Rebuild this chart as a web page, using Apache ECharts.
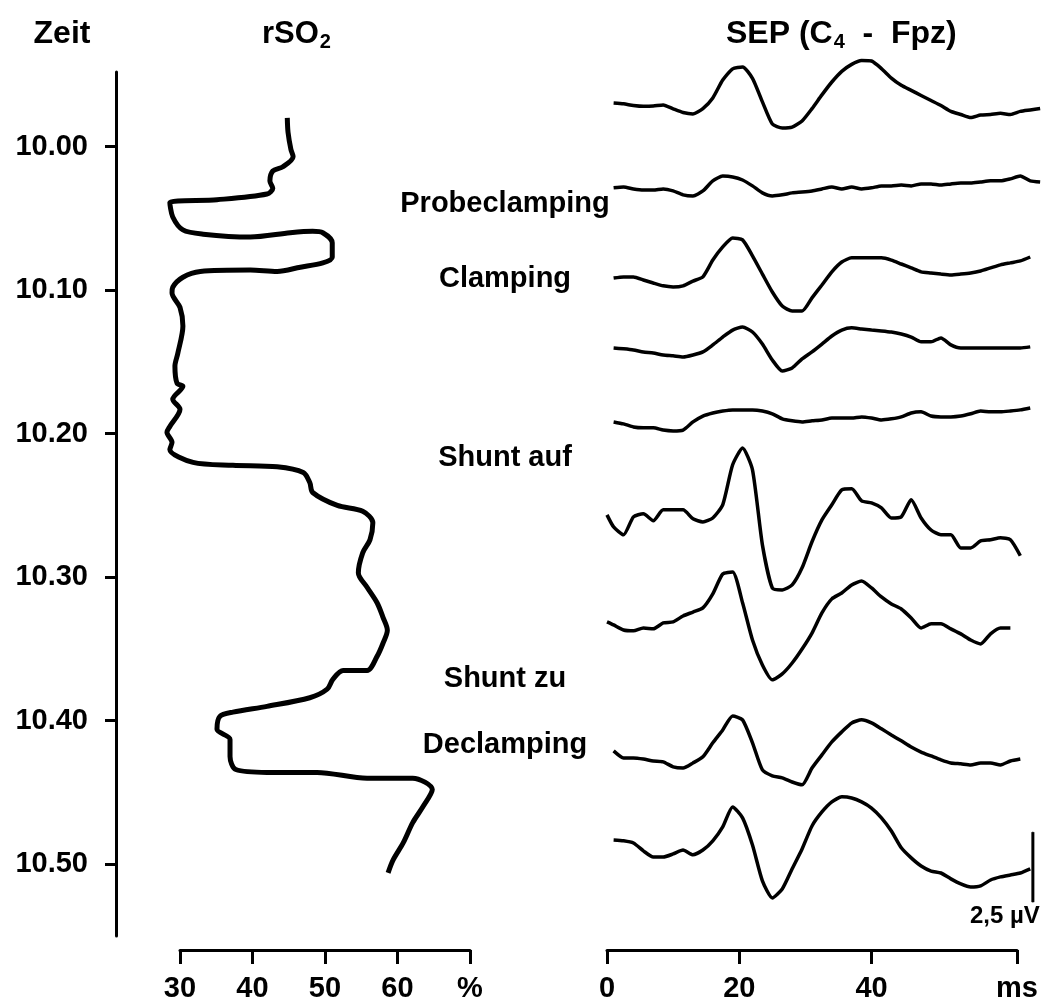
<!DOCTYPE html>
<html><head><meta charset="utf-8">
<script src="https://cdn.jsdelivr.net/npm/echarts@6/dist/echarts.min.js"></script>
<style>html,body{margin:0;padding:0;background:#fff}#c{width:1051px;height:1004px}</style>
</head><body><div id="c"></div>
<script>
// ---------- data ----------
const timeTicks = [0, 10, 20, 30, 40, 50];               // minutes after 10.00
const timeLabels = ['10.00', '10.10', '10.20', '10.30', '10.40', '10.50'];
const rso2Ticks = [30, 40, 50, 60, 70];
const rso2TickLabels = ['30', '40', '50', '60', '%'];
const sepTicks = [0, 20, 40, 62];
const sepTickLabels = ['0', '20', '40', 'ms'];

// rSO2 trend (value in %, time in minutes after 10.00)
const rso2Time = [-2.0, -1.0, 0.2, 0.7, 1.4, 1.7, 2.4, 2.9, 3.3, 3.7,
  3.9, 4.9, 5.8, 6.1, 6.3, 6.0, 5.9, 6.0, 6.7, 7.7,
  8.1, 8.4, 8.7, 8.6, 8.7, 9.1, 9.8, 10.2, 11.2, 12.5,
  14.4, 15.3, 16.5, 16.7, 17.6, 18.3, 19.5, 19.9, 20.6, 21.1,
  22.0, 22.2, 22.3, 22.7, 23.4, 24.1, 25.0, 25.4, 26.2, 27.4,
  28.3, 29.7, 30.7, 31.8, 32.8, 33.7, 34.6, 35.5, 36.5, 36.5,
  37.1, 37.8, 38.4, 39.0, 39.4, 39.7, 40.6, 41.3, 42.5, 43.4,
  43.6, 43.6, 44.0, 44.0, 44.8, 46.0, 47.1, 48.5, 49.7, 50.6];
const rso2Value = [44.8, 44.9, 45.3, 45.6, 44.2, 42.8, 42.4, 42.8, 42.0, 35.1,
  28.6, 29.0, 30.4, 33.2, 39.7, 45.2, 48.3, 49.7, 51.0, 51.0,
  49.7, 46.6, 43.4, 39.7, 32.8, 30.4, 29.0, 28.9, 30.0, 30.4,
  29.7, 29.3, 29.6, 30.4, 29.0, 30.0, 28.6, 28.2, 28.9, 28.6,
  31.8, 37.3, 43.4, 47.0, 47.9, 48.3, 51.7, 55.2, 56.6, 56.2,
  55.2, 54.6, 55.8, 57.2, 58.0, 58.6, 58.0, 57.2, 55.8, 52.5,
  51.1, 50.3, 47.9, 42.0, 37.3, 35.5, 35.1, 36.9, 36.9, 37.7,
  42.0, 48.9, 55.8, 62.1, 64.8, 63.5, 62.1, 60.8, 59.4, 58.7];

// events (minutes after 10.00)
const eventNames = ['Probeclamping', 'Clamping', 'Shunt auf', 'Shunt zu', 'Declamping'];
const eventTimes = [4.0, 9.2, 21.7, 37.1, 41.7];

// SEP traces: latency in ms, amplitude in µV (relative to own baseline)
const sepMs = [0, 1, 2.5, 4, 5.5, 7, 8.5, 10, 11.5, 13, 14.5, 16, 17.5, 19, 20.5, 22, 23.5, 25, 26.5, 28,
  29.5, 31, 32.5, 34, 35.5, 37, 38.5, 40, 41.5, 43, 44.5, 46, 47.5, 49, 50.5, 52, 53.5, 55, 56.5, 58,
  59.5, 61, 62.5, 64, 65.5];
const sep1 = [null, 0.07, 0.04, -0.02, -0.05, -0.04, 0, -0.14, -0.27, -0.32, -0.13, 0.25, 0.89, 1.29, 1.36, 0.95, 0.11, -0.68, -0.82, -0.79,
  -0.57, -0.13, 0.36, 0.82, 1.2, 1.45, 1.59, 1.57, 1.3, 0.96, 0.7, 0.52, 0.34, 0.16, -0.02, -0.23, -0.34, -0.45, -0.36, -0.34,
  -0.3, -0.34, -0.23, -0.18, -0.13];
const sep2 = [null, 0.04, 0.07, 0, -0.04, -0.04, 0, -0.07, -0.21, -0.25, -0.07, 0.29, 0.46, 0.43, 0.32, 0.11, -0.14, -0.25, -0.21, -0.14,
  -0.11, -0.07, 0, 0.07, 0, 0.07, 0, 0.04, 0.11, 0.11, 0.14, 0.11, 0.18, 0.18, 0.14, 0.18, 0.21, 0.21, 0.25, 0.29,
  0.29, 0.36, 0.46, 0.29, 0.25];
const sep3 = [null, 0.07, 0.11, 0.11, 0, -0.11, -0.21, -0.25, -0.21, -0.04, 0.11, 0.71, 1.18, 1.5, 1.43, 0.86, 0.21, -0.43, -0.93, -1.11,
  -1.11, -0.64, -0.18, 0.29, 0.64, 0.79, 0.79, 0.79, 0.79, 0.71, 0.57, 0.43, 0.29, 0.25, 0.21, 0.18, 0.21, 0.25, 0.32, 0.43,
  0.54, 0.61, 0.68, 0.82, null];
const sep4 = [null, 0.07, 0.04, 0, -0.07, -0.11, -0.18, -0.21, -0.25, -0.18, -0.07, 0.18, 0.46, 0.71, 0.82, 0.64, 0.21, -0.36, -0.75, -0.64,
  -0.32, -0.07, 0.21, 0.5, 0.71, 0.79, 0.75, 0.71, 0.68, 0.64, 0.57, 0.46, 0.29, 0.29, 0.43, 0.18, 0.07, 0.07, 0.07, 0.07,
  0.07, 0.07, 0.07, 0.11, null];
const sep5 = [null, 0, -0.07, -0.18, -0.21, -0.21, -0.29, -0.32, -0.29, 0, 0.21, 0.32, 0.39, 0.43, 0.43, 0.43, 0.39, 0.29, 0.11, 0.04,
  0, 0.04, 0.07, 0.14, 0.14, 0.14, 0.18, 0.14, 0.07, 0.11, 0.18, 0.32, 0.36, 0.21, 0.18, 0.18, 0.21, 0.29, 0.39, 0.36,
  0.36, 0.39, 0.43, 0.5, null];
const sep6 = [0, -0.43, -0.71, -0.07, 0.04, -0.21, 0.18, 0.18, 0.18, -0.14, -0.25, -0.11, 0.36, 1.79, 2.39, 1.61, -1.07, -2.61, -2.68, -2.5,
  -1.89, -0.96, -0.18, 0.36, 0.89, 0.93, 0.5, 0.43, 0.25, -0.11, -0.07, 0.54, -0.11, -0.54, -0.71, -0.71, -1.18, -1.18, -0.93, -0.89,
  -0.82, -0.89, -1.46, null, null];
const sep7 = [0.11, 0, -0.18, -0.21, -0.11, -0.14, 0.07, 0.11, 0.32, 0.46, 0.61, 1.11, 1.82, 1.89, 0.79, -0.54, -1.43, -1.96, -1.75, -1.36,
  -0.86, -0.29, 0.43, 0.93, 1.14, 1.43, 1.57, 1.32, 1, 0.75, 0.57, 0.25, -0.11, 0.04, 0.04, -0.14, -0.32, -0.54, -0.68, -0.32,
  -0.11, -0.11, null, null, null];
const sep8 = [null, 0.25, 0, 0, -0.04, -0.11, -0.14, -0.32, -0.36, -0.18, 0.04, 0.54, 1, 1.5, 1.36, 0.54, -0.43, -0.64, -0.71, -0.86,
  -0.96, -0.36, 0.11, 0.57, 0.93, 1.25, 1.36, 1.25, 1.04, 0.82, 0.61, 0.39, 0.21, 0.07, -0.07, -0.18, -0.21, -0.25, -0.18, -0.18,
  -0.25, -0.11, -0.04, null, null];
const sep9 = [null, 0.07, 0.04, -0.04, -0.32, -0.54, -0.54, -0.43, -0.29, -0.46, -0.29, 0.04, 0.54, 1.25, 0.86, -0.11, -1.39, -2, -1.68, -0.96,
  -0.25, 0.57, 1.07, 1.43, 1.61, 1.57, 1.43, 1.21, 0.86, 0.39, -0.21, -0.57, -0.86, -1.04, -1.11, -1.32, -1.5, -1.61, -1.57, -1.36,
  -1.25, -1.18, -1.11, -0.96, null];
const scaleBarValue = 2.5; // µV

// ---------- layout ----------
const GRID_TOP = 72, GRID_H = 864;
const T_MIN = -5.2, T_MAX = 55;
const PX_PER_UV = 28;
const PX_PER_PCT = 7.25;
const PX_PER_MS = 410 / 62;
const traceOffsets = [29.68, 26.68, 23.43, 20.93, 18.36, 15.04, 11.11, 6.36, 3.36]; // µV above axis-grid bottom
const scaleBarPos = { ms: 64.4, base: 1.21 };
const FONT = '"Liberation Sans", Arial, Helvetica, sans-serif';

const chart = echarts.init(document.getElementById('c'), null, { renderer: 'canvas' });

// SEP data grid spans the whole canvas height so nothing gets clipped
const SEP_Y_MIN = -(1004 - (GRID_TOP + GRID_H)) / PX_PER_UV;
const SEP_Y_MAX = (GRID_TOP + GRID_H) / PX_PER_UV;

const sepTraces = [sep1, sep2, sep3, sep4, sep5, sep6, sep7, sep8, sep9];
const sepSeries = sepTraces.map((tr, k) => ({
  type: 'line', name: 'SEP ' + (k + 1), xAxisIndex: 3, yAxisIndex: 3,
  symbol: 'none', clip: false, silent: true, smooth: 0.2,
  lineStyle: { color: '#000', width: 3.5 },
  data: sepMs.map((ms, i) => tr[i] == null ? null : [ms, traceOffsets[k] + tr[i]]).filter(d => d)
}));

const axisText = { color: '#000', fontFamily: FONT, fontWeight: 'bold', fontSize: 29 };
const blackLine = { color: '#000', width: 3 };
const RSO2_DATA_MIN = 28;

chart.setOption({
  animation: false,
  backgroundColor: '#fff',
  grid: [
    // 0: rSO2 visible axes
    { left: 180, top: GRID_TOP, width: 290, height: GRID_H },
    // 1: event labels
    { left: 430, top: GRID_TOP, width: 150, height: GRID_H },
    // 2: SEP visible axis
    { left: 607, top: GRID_TOP, width: 410, height: GRID_H },
    // 3: SEP data
    { left: 607, top: 0, width: 66 * PX_PER_MS, height: 1004 },
    // 4: rSO2 data
    { left: 180 - (30 - RSO2_DATA_MIN) * PX_PER_PCT, top: GRID_TOP, width: (70 - RSO2_DATA_MIN) * PX_PER_PCT, height: GRID_H }
  ],
  xAxis: [
    { gridIndex: 0, type: 'value', min: 30, max: 70, position: 'bottom', offset: 14,
      splitLine: { show: false },
      axisLine: { show: true, onZero: false, lineStyle: blackLine },
      axisTick: { show: true, customValues: rso2Ticks, length: 14, lineStyle: blackLine },
      axisLabel: { customValues: rso2Ticks, margin: 24, ...axisText,
        formatter: v => rso2TickLabels[rso2Ticks.indexOf(v)] } },
    { gridIndex: 1, type: 'value', min: 0, max: 1, show: false },
    { gridIndex: 2, type: 'value', min: 0, max: 62, position: 'bottom', offset: 14,
      splitLine: { show: false },
      axisLine: { show: true, onZero: false, lineStyle: blackLine },
      axisTick: { show: true, customValues: sepTicks, length: 14, lineStyle: blackLine },
      axisLabel: { customValues: sepTicks, margin: 24, ...axisText,
        formatter: v => sepTickLabels[sepTicks.indexOf(v)] } },
    { gridIndex: 3, type: 'value', min: 0, max: 66, show: false },
    { gridIndex: 4, type: 'value', min: RSO2_DATA_MIN, max: 70, show: false }
  ],
  yAxis: [
    { gridIndex: 0, type: 'value', min: T_MIN, max: T_MAX, inverse: true, position: 'left', offset: 64,
      splitLine: { show: false },
      axisLine: { show: true, onZero: false, lineStyle: blackLine },
      axisTick: { show: true, customValues: timeTicks, length: 11, lineStyle: blackLine },
      axisLabel: { customValues: timeTicks, margin: 28, ...axisText,
        formatter: v => timeLabels[timeTicks.indexOf(v)] } },
    { gridIndex: 1, type: 'value', min: T_MIN, max: T_MAX, inverse: true, show: false },
    { gridIndex: 2, type: 'value', min: 0, max: 1, show: false },
    { gridIndex: 3, type: 'value', min: SEP_Y_MIN, max: SEP_Y_MAX, show: false },
    { gridIndex: 4, type: 'value', min: T_MIN, max: T_MAX, inverse: true, show: false }
  ],
  graphic: [
    { type: 'text', x: 62, y: 34, style: { text: 'Zeit', fill: '#000', font: 'bold 32px ' + FONT,
        align: 'center', verticalAlign: 'middle' } },
    { type: 'text', x: 262, y: 34, style: {
        text: '{a|rSO}{s|2}', fill: '#000', verticalAlign: 'middle',
        rich: { a: { fontSize: 31, fontWeight: 'bold', fontFamily: FONT, color: '#000' },
                s: { fontSize: 20, fontWeight: 'bold', fontFamily: FONT, color: '#000', padding: [16, 0, 0, 1] } } } },
    { type: 'text', x: 726, y: 34, style: {
        text: '{a|SEP (C}{s|4}{a|  -  Fpz)}', fill: '#000', verticalAlign: 'middle',
        rich: { a: { fontSize: 32, fontWeight: 'bold', fontFamily: FONT, color: '#000' },
                s: { fontSize: 20, fontWeight: 'bold', fontFamily: FONT, color: '#000', padding: [16, 0, 0, 1] } } } }
  ],
  series: [
    { type: 'line', name: 'rSO2', xAxisIndex: 4, yAxisIndex: 4, symbol: 'none', clip: false, silent: true,
      smooth: 0.3, lineStyle: { color: '#000', width: 5 },
      data: rso2Time.map((t, i) => [rso2Value[i], t]) },
    { type: 'scatter', name: 'Ereignisse', xAxisIndex: 1, yAxisIndex: 1, symbolSize: 0, silent: true,
      itemStyle: { color: '#000', opacity: 1 },
      label: { show: true, position: 'inside', color: '#000', opacity: 1, textBorderWidth: 0, fontFamily: FONT,
        fontWeight: 'bold', fontSize: 29, formatter: p => p.data[2] },
      data: eventTimes.map((t, i) => [0.5, t, eventNames[i]]) },
    ...sepSeries,
    { type: 'line', name: 'Skala', xAxisIndex: 3, yAxisIndex: 3, clip: false, silent: true,
      symbol: 'circle', symbolSize: 1, showSymbol: true, itemStyle: { color: '#000' },
      lineStyle: { color: '#000', width: 3 },
      data: [
        { value: [scaleBarPos.ms, scaleBarPos.base],
          label: { show: true, position: 'bottom', distance: 2, offset: [-28, 0], color: '#000', textBorderWidth: 0,
                   fontFamily: FONT, fontWeight: 'bold', fontSize: 24,
                   formatter: () => String(scaleBarValue).replace('.', ',') + ' µV' } },
        [scaleBarPos.ms, scaleBarPos.base + scaleBarValue]
      ] }
  ]
});
</script></body></html>
